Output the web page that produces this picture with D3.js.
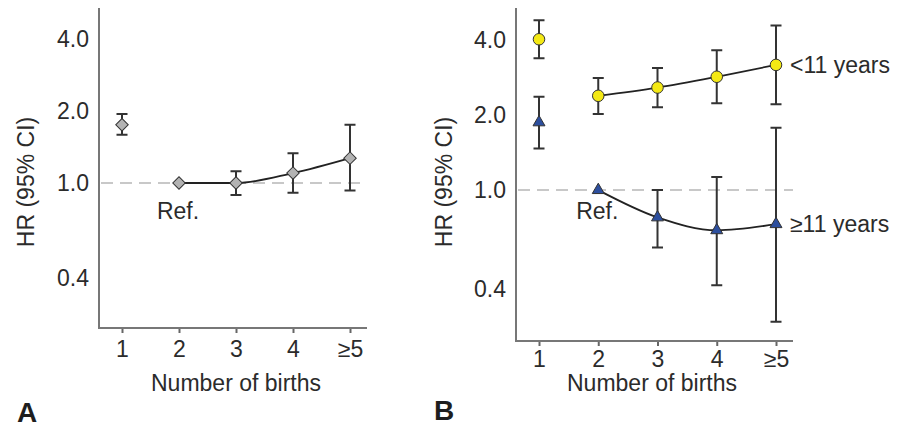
<!DOCTYPE html>
<html>
<head>
<meta charset="utf-8">
<script src="https://cdn.jsdelivr.net/npm/d3@7"></script>
<style>
  body { margin: 0; background: #fff; }
  svg text { font-family: "Liberation Sans", Arial, sans-serif; fill: #2b2b2b; }
</style>
</head>
<body>
<div id="chart-area"></div>
<script>
/*
*    HR by number of births, panels A and B
*/

const width = 898;
const height = 428;

// categories and ticks
const births = ["1", "2", "3", "4", "≥5"];
const hrTicks = [0.4, 1, 2, 4];
const hrTickLabels = ["0.4", "1.0", "2.0", "4.0"];

// panel A (all women)
const hrA = [1.75, 1.0, 1.0, 1.10, 1.27];
const loA = [1.59, null, 0.89, 0.91, 0.93];
const hiA = [1.94, null, 1.12, 1.33, 1.75];

// panel B, <11 years
const hrYoung = [4.03, 2.39, 2.58, 2.85, 3.18];
const loYoung = [3.38, 2.02, 2.15, 2.23, 2.21];
const hiYoung = [4.80, 2.82, 3.09, 3.64, 4.58];

// panel B, >=11 years
const hrOld = [1.87, 1.0, 0.777, 0.69, 0.73];
const loOld = [1.47, null, 0.589, 0.415, 0.296];
const hiOld = [2.37, null, 1.0, 1.13, 1.78];

const svg = d3.select("#chart-area")
    .append("svg")
    .attr("width", width)
    .attr("height", height);

function drawPanel(p) {
    const g = svg.append("g");

    // scales
    const x = d3.scalePoint()
        .domain(births)
        .range([p.x0, p.x1]);

    const y = d3.scaleLog()
        .domain([0.248, 5.38])
        .range([p.bottom, p.top]);

    // x axis
    const bottomAxis = d3.axisBottom(x)
        .tickSize(5)
        .tickSizeOuter(0)
        .tickPadding(p.xPad);

    const xAxisGroup = g.append("g")
        .attr("transform", "translate(0," + p.bottom + ")")
        .call(bottomAxis);
    xAxisGroup.select(".domain").remove();
    xAxisGroup.selectAll("line").attr("stroke", "#666").attr("stroke-width", 2);
    xAxisGroup.selectAll("text")
        .attr("font-size", "23px")
        .attr("font-family", null)
        .attr("fill", "#2b2b2b");

    // y axis
    const leftAxis = d3.axisLeft(y)
        .tickValues(hrTicks)
        .tickFormat((d, i) => hrTickLabels[i])
        .tickSize(0)
        .tickPadding(10);

    const yAxisGroup = g.append("g")
        .attr("transform", "translate(" + p.axisX + ",0)")
        .call(leftAxis);
    yAxisGroup.select(".domain").remove();
    yAxisGroup.selectAll("text")
        .attr("font-size", "23px")
        .attr("font-family", null)
        .attr("fill", "#2b2b2b");

    // axis lines
    g.append("path")
        .attr("d", "M" + p.axisX + "," + p.top + "V" + p.bottom + "H" + p.axisEnd)
        .attr("fill", "none")
        .attr("stroke", "#777")
        .attr("stroke-width", 2);

    // reference line at HR = 1
    g.append("line")
        .attr("x1", p.axisX + 2)
        .attr("x2", p.axisEnd)
        .attr("y1", y(1))
        .attr("y2", y(1))
        .attr("stroke", "#c8c8c8")
        .attr("stroke-width", 2)
        .attr("stroke-dasharray", "12,7");

    // axis labels
    g.append("text")
        .attr("x", p.titleX)
        .attr("y", 391)
        .attr("font-size", "23px")
        .attr("text-anchor", "middle")
        .text("Number of births");

    g.append("text")
        .attr("transform", "translate(" + p.yTitleX + ",182) rotate(-90)")
        .attr("font-size", "23px")
        .attr("text-anchor", "middle")
        .attr("dy", "0.35em")
        .text("HR (95% CI)");

    g.append("text")
        .attr("x", p.letterX)
        .attr("y", p.letterY)
        .attr("font-size", "28px")
        .attr("font-weight", "bold")
        .style("fill", "#1e1e1e")
        .text(p.letter);

    g.append("text")
        .attr("x", x("2") - 1)
        .attr("y", 219)
        .attr("font-size", "23px")
        .attr("text-anchor", "middle")
        .text("Ref.");

    // series
    p.series.forEach(s => {
        const rows = births.map((b, i) => ({b: b, hr: s.hr[i], lo: s.lo[i], hi: s.hi[i]}));

        // error bars
        const bars = g.append("g")
            .attr("stroke", "#333")
            .attr("stroke-width", 2)
            .attr("fill", "none");

        bars.selectAll("path")
            .data(rows.filter(d => d.lo != null))
            .enter().append("path")
            .attr("d", d => {
                const cx = x(d.b);
                return "M" + (cx - 5.5) + "," + y(d.hi) + "H" + (cx + 5.5) +
                    "M" + cx + "," + y(d.hi) + "V" + y(d.lo) +
                    "M" + (cx - 5.5) + "," + y(d.lo) + "H" + (cx + 5.5);
            });

        // connecting line from 2 onwards
        const line = d3.line()
            .x(d => x(d.b))
            .y(d => y(d.hr))
            .curve(d3.curveMonotoneX);

        g.append("path")
            .datum(rows.slice(1))
            .attr("d", line)
            .attr("fill", "none")
            .attr("stroke", "#222")
            .attr("stroke-width", 1.8);

        // markers
        const sym = d3.symbol().type(s.symbol).size(s.size);
        g.selectAll(null)
            .data(rows)
            .enter().append("path")
            .attr("d", sym)
            .attr("transform", d => "translate(" + x(d.b) + "," + y(d.hr) + ") rotate(" + s.rotate + ")")
            .attr("fill", s.fill)
            .attr("stroke", "#333")
            .attr("stroke-width", 1);

        if (s.label) {
            g.append("text")
                .attr("x", s.labelX)
                .attr("y", s.labelY)
                .attr("font-size", "23px")
                .text(s.label);
        }
    });
}

drawPanel({
    axisX: 99, axisEnd: 367, x0: 122, x1: 350,
    top: 8, bottom: 328, xPad: 8,
    titleX: 236, yTitleX: 26,
    letter: "A", letterX: 17, letterY: 422,
    series: [
        {hr: hrA, lo: loA, hi: hiA, symbol: d3.symbolSquare, size: 78, rotate: 45, fill: "#b3b3b3"}
    ]
});

drawPanel({
    axisX: 516, axisEnd: 793, x0: 539, x1: 776,
    top: 8, bottom: 341, xPad: 5,
    titleX: 652, yTitleX: 444,
    letter: "B", letterX: 434, letterY: 420,
    series: [
        {hr: hrYoung, lo: loYoung, hi: hiYoung, symbol: d3.symbolCircle, size: 105, rotate: 0,
            fill: "#f4e914", label: "<11 years", labelX: 790, labelY: 73},
        {hr: hrOld, lo: loOld, hi: hiOld, symbol: d3.symbolTriangle, size: 62, rotate: 0,
            fill: "#2d4f9e", label: "≥11 years", labelX: 790, labelY: 232}
    ]
});
</script>
</body>
</html>
